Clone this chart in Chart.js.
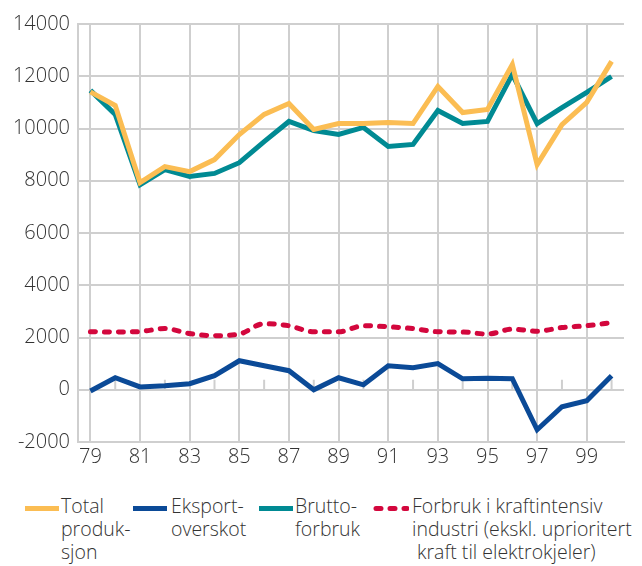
<!DOCTYPE html>
<html>
<head>
<meta charset="utf-8">
<script src="https://cdn.jsdelivr.net/npm/chart.js@4"></script>
<style>
  body { margin: 0; background: #fff; font-family: "Open Sans", sans-serif; }
  #wrap { position: relative; width: 642px; height: 566px; }
  #chartBox { position: absolute; left: 0; top: 0; width: 642px; height: 480px; }
  .leg { position: absolute; top: 494px; font-size: 19.5px; font-weight: 300; line-height: 23px; color: #333; }
  .sw { position: absolute; top: 12px; height: 5px; }
</style>
</head>
<body>
<div id="wrap">
  <div id="chartBox"><canvas id="chart"></canvas></div>
  <div class="leg" style="left:25px"><span class="sw" style="left:0;width:34px;background:#fbbd53"></span><div style="margin-left:36px">Total<br>produk-<br>sjon</div></div>
  <div class="leg" style="left:133px"><span class="sw" style="left:0;width:34px;background:#0b4a97"></span><div style="margin-left:38px">Eksport-<br>overskot</div></div>
  <div class="leg" style="left:259px"><span class="sw" style="left:0;width:34px;background:#008a93"></span><div style="margin-left:36px">Brutto-<br>forbruk</div></div>
  <div class="leg" style="left:373px">
    <svg class="sw" style="left:0;top:10px;height:9px" width="36" height="9"><line x1="3" y1="4.5" x2="34" y2="4.5" stroke="#d3073d" stroke-width="5" stroke-linecap="round" stroke-dasharray="5 9"/></svg>
    <div style="margin-left:39px">Forbruk i kraftintensiv<br>industri (ekskl. uprioritert<br>&nbsp;kraft til elektrokjeler)</div>
  </div>
</div>
<script>
// Years 1979-2000 as shown on the axis
const years = ['79', '80', '81', '82', '83', '84', '85', '86', '87', '88', '89',
               '90', '91', '92', '93', '94', '95', '96', '97', '98', '99', '00'];

// GWh
const totalProduksjon = [11400, 10880, 7930, 8540, 8350, 8810, 9770, 10540, 10960, 9960, 10190,
                         10190, 10230, 10190, 11610, 10610, 10730, 12450, 8620, 10150, 11000, 12570];
const eksportoverskot = [-50, 460, 110, 150, 230, 540, 1110, 920, 730, 0, 460,
                         190, 920, 840, 1000, 420, 440, 420, -1530, -650, -420, 540];
const bruttoforbruk = [11460, 10540, 7850, 8430, 8160, 8280, 8690, 9500, 10270, 9920, 9770,
                       10040, 9310, 9390, 10690, 10190, 10270, 12070, 10190, 10800, 11380, 11990];
const kraftintensiv = [2220, 2210, 2230, 2340, 2150, 2070, 2130, 2530, 2450, 2220, 2220,
                       2450, 2410, 2340, 2220, 2210, 2130, 2320, 2240, 2380, 2450, 2570];

const gridColor = '#cfcfcf';
const textColor = '#333333';

// short tick marks on the zero line for even years
const zeroTicks = {
    id: 'zeroTicks',
    beforeDatasetsDraw(chart) {
        const ctx = chart.ctx;
        const x = chart.scales.x;
        const y0 = chart.scales.y.getPixelForValue(0);
        ctx.save();
        ctx.strokeStyle = gridColor;
        ctx.lineWidth = 2;
        years.forEach((yr, i) => {
            if (i % 2 === 1) {
                const px = x.getPixelForValue(i);
                ctx.beginPath();
                ctx.moveTo(px, y0);
                ctx.lineTo(px, y0 - 10);
                ctx.stroke();
            }
        });
        ctx.restore();
    }
};

const tickFont = { family: 'Open Sans', size: 20, weight: '300' };

const ctx = document.getElementById('chart').getContext('2d');
new Chart(ctx, {
    type: 'line',
    data: {
        labels: years,
        datasets: [{
            label: 'Total produksjon',
            data: totalProduksjon,
            borderColor: '#fbbd53',
            borderWidth: 5,
            pointRadius: 0,
            tension: 0,
            order: 1
        }, {
            label: 'Eksportoverskot',
            data: eksportoverskot,
            borderColor: '#0b4a97',
            borderWidth: 5,
            pointRadius: 0,
            tension: 0,
            order: 2
        }, {
            label: 'Bruttoforbruk',
            data: bruttoforbruk,
            borderColor: '#008a93',
            borderWidth: 5,
            pointRadius: 0,
            tension: 0,
            order: 3
        }, {
            label: 'Forbruk i kraftintensiv industri',
            data: kraftintensiv,
            borderColor: '#d3073d',
            borderWidth: 5,
            borderDash: [5, 9],
            borderCapStyle: 'round',
            pointRadius: 0,
            cubicInterpolationMode: 'monotone',
            order: 4
        }]
    },
    options: {
        responsive: true,
        maintainAspectRatio: false,
        animation: false,
        layout: { padding: { top: 24, right: 18, bottom: 8, left: 0 } },
        plugins: {
            legend: { display: false },
            tooltip: { enabled: false }
        },
        scales: {
            x: {
                offset: true,
                grid: {
                    offset: false,
                    color: (c) => (c.index % 2 === 0 ? gridColor : 'rgba(0,0,0,0)'),
                    lineWidth: 2,
                    drawTicks: false
                },
                border: { color: gridColor, width: 2 },
                ticks: {
                    autoSkip: false,
                    maxRotation: 0,
                    padding: 3,
                    color: textColor,
                    font: tickFont,
                    callback: function(val, i) { return i % 2 === 0 ? years[i] : ''; }
                },
                afterFit: (scale) => { scale.height = 30; }
            },
            y: {
                min: -2000,
                max: 14000,
                ticks: {
                    stepSize: 2000,
                    padding: 8,
                    color: textColor,
                    font: tickFont,
                    callback: (v) => String(v)
                },
                grid: { color: gridColor, lineWidth: 2, drawTicks: false },
                border: { color: gridColor, width: 2 },
                afterFit: (scale) => { scale.width = 78; }
            }
        }
    },
    plugins: [zeroTicks]
});
</script>
</body>
</html>
